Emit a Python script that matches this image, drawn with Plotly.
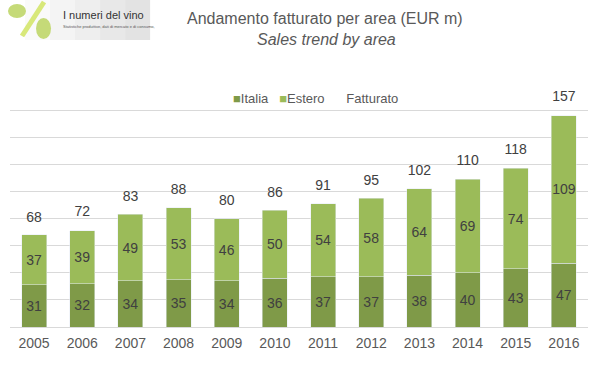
import plotly.graph_objects as go

years = ["2005", "2006", "2007", "2008", "2009", "2010", "2011", "2012", "2013", "2014", "2015", "2016"]
italia = [31, 32, 34, 35, 34, 36, 37, 37, 38, 40, 43, 47]
estero = [37, 39, 49, 53, 46, 50, 54, 58, 64, 69, 74, 109]
fatturato = [68, 72, 83, 88, 80, 86, 91, 95, 102, 110, 118, 157]

FONT = "Liberation Sans, Arial, sans-serif"
C_IT = "#7F9A48"
C_ES = "#9BBB59"
TXT = "#404040"

fig = go.Figure()
fig.add_trace(go.Bar(x=years, y=italia, name="Italia", marker_color=C_IT,
                     text=italia, textposition="inside", insidetextanchor="middle", textangle=0,
                     textfont=dict(color=TXT, size=14, family=FONT)))
fig.add_trace(go.Bar(x=years, y=estero, name="Estero", marker_color=C_ES,
                     text=estero, textposition="inside", insidetextanchor="middle", textangle=0,
                     textfont=dict(color=TXT, size=14, family=FONT)))
fig.add_trace(go.Scatter(x=years, y=fatturato, name="Fatturato", mode="markers+text",
                         marker=dict(color="rgba(0,0,0,0)", size=14),
                         text=fatturato, textposition="top center",
                         textfont=dict(color=TXT, size=14, family=FONT)))

fig.update_layout(
    width=600, height=378,
    barmode="stack", bargap=0.48,
    plot_bgcolor="white", paper_bgcolor="white",
    margin=dict(l=10, r=12, t=83, b=51),
    font=dict(family=FONT, color="#595959", size=14),
    uniformtext=dict(minsize=13, mode="show"),
    showlegend=False,
    xaxis=dict(showgrid=False, showline=False, ticks="", range=[-0.5, 11.5],
               ticklabelstandoff=6, tickfont=dict(size=14, color="#595959")),
    yaxis=dict(range=[0, 180], dtick=20, showgrid=True, gridcolor="#D9D9D9", gridwidth=1,
               showticklabels=False, zeroline=True, zerolinecolor="#D9D9D9", zerolinewidth=1,
               fixedrange=True),
)

def py(ypix):
    return (378 - 51 - ypix) / 244

def px(xpix):
    return (xpix - 10) / 577.5

# Legend (drawn as text)
legend_text = (f"<span style='color:{C_IT}'>■</span>Italia&nbsp;&nbsp;&nbsp;"
               f"<span style='color:{C_ES}'>■</span>Estero"
               "&nbsp;&nbsp;&nbsp;&nbsp;&nbsp;&nbsp;Fatturato")
fig.add_annotation(text=legend_text, xref="paper", yref="paper",
                   x=px(231), y=py(98), xanchor="left", yanchor="middle",
                   showarrow=False, font=dict(size=13, color="#595959", family=FONT))

# Titles
fig.add_annotation(text="Andamento fatturato per area (EUR m)", xref="paper", yref="paper",
                   x=px(325), y=py(19), xanchor="center", yanchor="middle",
                   showarrow=False, font=dict(size=16, color="#595959", family=FONT))
fig.add_annotation(text="<i>Sales trend by area</i>", xref="paper", yref="paper",
                   x=px(326), y=py(40), xanchor="center", yanchor="middle",
                   showarrow=False, font=dict(size=16, color="#595959", family=FONT))

# Logo (decorative)
for i, c in enumerate(["#FFFFFF", "#FAFAFA", "#F4F4F4", "#EEEEEE", "#E8E8E8", "#E3E3E3"]):
    fig.add_shape(type="rect", xref="paper", yref="paper", x0=px(i * 25), x1=px(min((i + 1) * 25, 150)),
                  y0=py(40), y1=py(0), fillcolor=c, line_width=0, layer="below")
fig.add_shape(type="line", xref="paper", yref="paper", x0=px(22), x1=px(44),
              y0=py(36), y1=py(2), line=dict(color="#D8E87A", width=5))
fig.add_shape(type="circle", xref="paper", yref="paper", x0=px(8), x1=px(26),
              y0=py(18), y1=py(4), fillcolor="#C5DA78", line_width=0)
fig.add_shape(type="circle", xref="paper", yref="paper", x0=px(36), x1=px(51),
              y0=py(39), y1=py(18), fillcolor="#C5DA78", line_width=0)
fig.add_annotation(text="I numeri del vino", xref="paper", yref="paper",
                   x=px(61), y=py(15), xanchor="left", yanchor="middle",
                   showarrow=False, font=dict(size=11, color="#333333", family=FONT))
fig.add_annotation(text="Statistiche produttive, dati di mercato e di consumo,", xref="paper", yref="paper",
                   x=px(61), y=py(26), xanchor="left", yanchor="middle",
                   showarrow=False, font=dict(size=4, color="#555555", family=FONT))

fig.write_html("out.html", config={"displayModeBar": False},
               post_script="document.body.style.margin='0';")
